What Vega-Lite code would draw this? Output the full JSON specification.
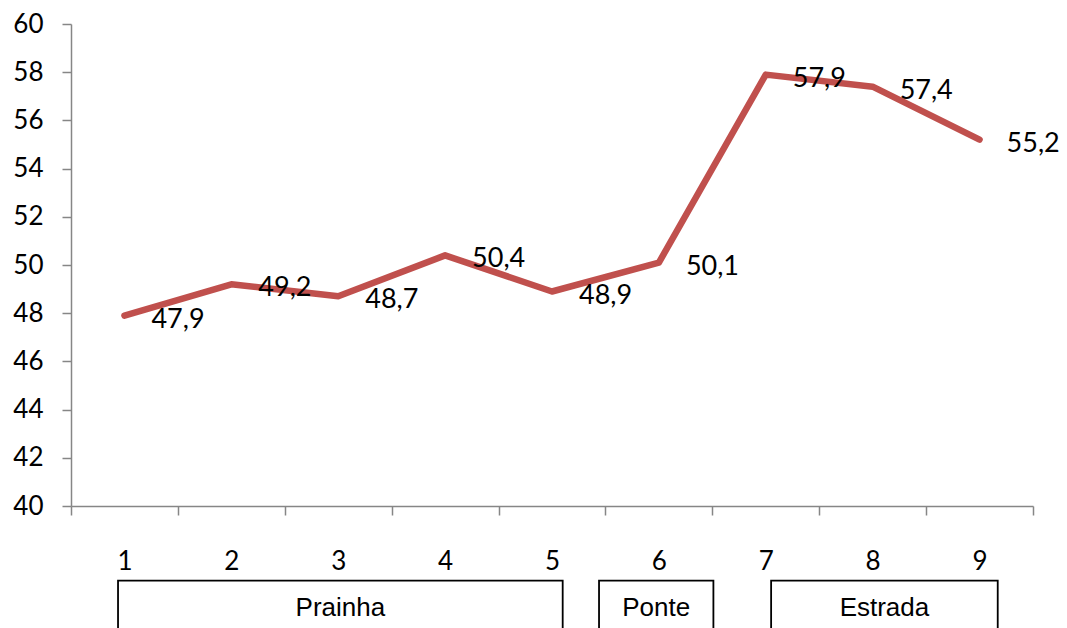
{
  "$schema": "https://vega.github.io/schema/vega-lite/v6.json",
  "width": 962,
  "height": 482,
  "autosize": {"type": "none"},
  "padding": {"left": 71, "top": 24, "right": 34, "bottom": 122},
  "background": "white",
  "config": {
    "view": {"stroke": null},
    "axis": {
      "grid": false,
      "domainColor": "#868686",
      "domainWidth": 1.5,
      "tickColor": "#868686",
      "tickWidth": 1.5,
      "tickSize": 9,
      "labelFont": "Lato",
      "labelFontSize": 26,
      "labelColor": "#000000",
      "title": null
    }
  },
  "datasets": {
    "series": [
      {"site": 1, "value": 47.9},
      {"site": 2, "value": 49.2},
      {"site": 3, "value": 48.7},
      {"site": 4, "value": 50.4},
      {"site": 5, "value": 48.9},
      {"site": 6, "value": 50.1},
      {"site": 7, "value": 57.9},
      {"site": 8, "value": 57.4},
      {"site": 9, "value": 55.2}
    ],
    "groups": [
      {"group": "Prainha", "from": 0.94, "to": 5.1},
      {"group": "Ponte", "from": 5.44, "to": 6.51},
      {"group": "Estrada", "from": 7.05, "to": 9.17}
    ]
  },
  "layer": [
    {
      "data": {"name": "series"},
      "mark": {"type": "line", "color": "#C0504D", "strokeWidth": 6.5, "strokeCap": "round", "strokeJoin": "round"},
      "encoding": {
        "x": {
          "field": "site",
          "type": "quantitative",
          "scale": {"domain": [0.5, 9.5], "nice": false, "zero": false},
          "axis": {
            "values": [0.5, 1, 1.5, 2, 2.5, 3, 3.5, 4, 4.5, 5, 5.5, 6, 6.5, 7, 7.5, 8, 8.5, 9, 9.5],
            "labelExpr": "datum.value % 1 == 0 ? datum.value : ''",
            "tickOpacity": {"condition": {"test": "datum.value % 1 == 0", "value": 0}, "value": 1},
            "labelPadding": 33,
            "labelOverlap": false,
            "labelFlush": false,
            "labelBound": false
          }
        },
        "y": {
          "field": "value",
          "type": "quantitative",
          "scale": {"domain": [40, 60], "nice": false, "zero": false},
          "axis": {"values": [40, 42, 44, 46, 48, 50, 52, 54, 56, 58, 60], "labelPadding": 19, "labelOverlap": false, "labelFlush": false}
        }
      }
    },
    {
      "data": {"name": "series"},
      "mark": {
        "type": "text",
        "font": "Lato",
        "fontSize": 27,
        "color": "#000000",
        "align": "left",
        "baseline": "middle",
        "dx": 27,
        "dy": 4,
        "text": {"expr": "replace(format(datum.value, '.1f'), '.', ',')"}
      },
      "encoding": {
        "x": {"field": "site", "type": "quantitative"},
        "y": {"field": "value", "type": "quantitative"}
      }
    },
    {
      "data": {"name": "groups"},
      "mark": {"type": "rect", "fill": null, "fillOpacity": 0, "stroke": "#000000", "strokeWidth": 1.8},
      "encoding": {
        "x": {"field": "from", "type": "quantitative"},
        "x2": {"field": "to"},
        "y": {"datum": 36.9},
        "y2": {"datum": 34}
      }
    },
    {
      "data": {"name": "groups"},
      "transform": [
        {"fold": ["from", "to"], "as": ["edge", "pos"]},
        {"aggregate": [{"op": "mean", "field": "pos", "as": "centre"}], "groupby": ["group"]}
      ],
      "mark": {"type": "text", "font": "Liberation Sans", "fontSize": 26, "color": "#000000", "align": "center", "baseline": "middle"},
      "encoding": {
        "x": {"field": "centre", "type": "quantitative"},
        "y": {"datum": 35.78},
        "text": {"field": "group"}
      }
    }
  ]
}
